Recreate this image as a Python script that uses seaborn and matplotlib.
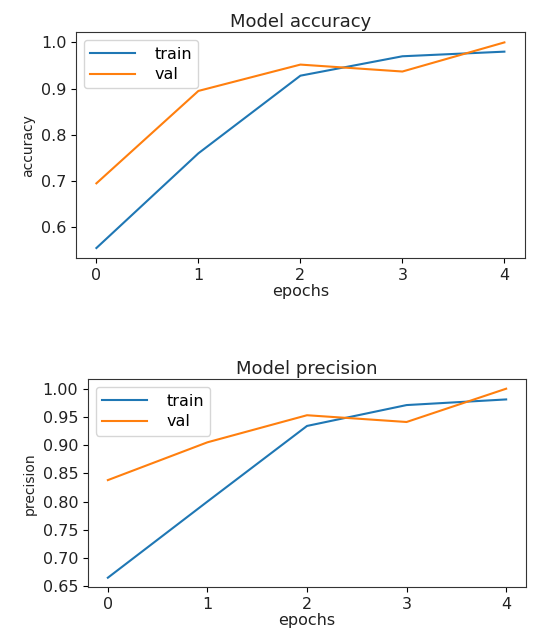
import matplotlib
matplotlib.use("Agg")
import matplotlib.pyplot as plt
import seaborn as sns
import pandas as pd

epochs = [0, 1, 2, 3, 4]
acc_train = [0.555, 0.760, 0.928, 0.970, 0.980]
acc_val = [0.695, 0.895, 0.952, 0.937, 1.000]
prec_train = [0.665, 0.800, 0.934, 0.971, 0.981]
prec_val = [0.838, 0.905, 0.953, 0.941, 1.000]

plt.rcParams['font.family'] = ['DejaVu Sans']

fig = plt.figure(figsize=(5.33, 6.3), dpi=100)
ax1 = fig.add_axes([0.1426, 0.590, 0.842, 0.359])
ax2 = fig.add_axes([0.165, 0.068, 0.822, 0.330])

c_train = '#1f77b4'
c_val = '#ff7f0e'

def draw(ax, tr, va, title, ylabel, yticks, fmt):
    df = pd.DataFrame({'epoch': epochs * 2, 'value': tr + va,
                       'series': ['train'] * 5 + ['val'] * 5})
    sns.lineplot(data=df, x='epoch', y='value', hue='series',
                 palette=[c_train, c_val], ax=ax, linewidth=1.5)
    ax.set_title(title, fontsize=13, pad=4, color='#222222')
    ax.set_xlabel('epochs', fontsize=11.5, labelpad=1, color='#222222')
    ax.set_ylabel(ylabel, fontsize=10, color='#222222')
    ax.set_xticks(epochs)
    ax.set_yticks(yticks)
    ax.set_yticklabels([fmt.format(v) for v in yticks])
    ax.tick_params(labelsize=11.5, labelcolor='#222222')
    leg = ax.legend(loc='upper left', fontsize=11.5, handlelength=2.8,
                    labelspacing=0.35, handletextpad=1.2)
    leg.set_title(None)
    for s in ax.spines.values():
        s.set_color('#333333')

draw(ax1, acc_train, acc_val, 'Model accuracy', 'accuracy',
     [0.6, 0.7, 0.8, 0.9, 1.0], '{:.1f}')
draw(ax2, prec_train, prec_val, 'Model precision', 'precision',
     [0.65, 0.70, 0.75, 0.80, 0.85, 0.90, 0.95, 1.00], '{:.2f}')

fig.savefig('out.png', dpi=100)
